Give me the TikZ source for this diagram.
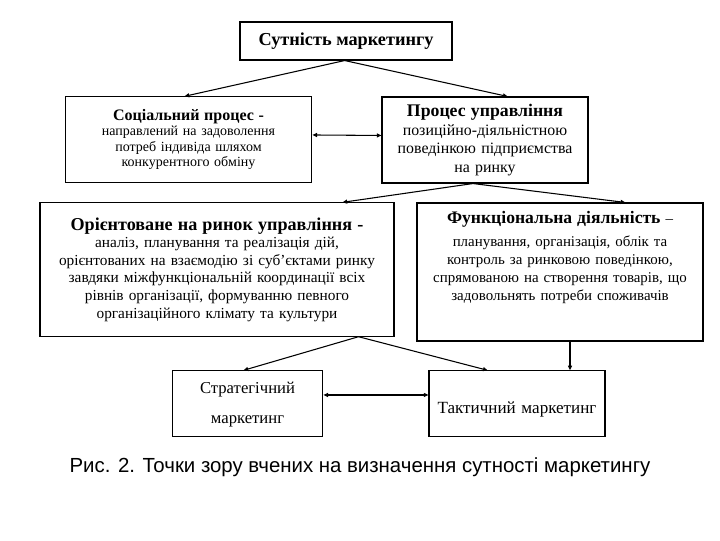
\documentclass[tikz,border=0pt]{standalone}
\usepackage{fontspec}
\setmainfont{Liberation Serif}
\newfontfamily\capfont{Liberation Sans}
\usetikzlibrary{arrows.meta}

\tikzset{
  box/.style={draw, line width=0.8pt, align=center, inner sep=2pt},
  arr/.style={line width=0.8pt, -{Triangle[length=3.5pt,width=3pt]}},
  dbl/.style={line width=0.8pt, {Triangle[length=3.5pt,width=3pt]}-{Triangle[length=3.5pt,width=3pt]}},
}

\begin{document}
\begin{tikzpicture}[x=0.75pt,y=0.75pt,yscale=-1,xscale=1]
\useasboundingbox (0,0) rectangle (720,540);

% Text Node
\node [box, minimum width=159pt, minimum height=28.5pt, font=\fontsize{13.7}{15}\selectfont\bfseries] (top) at (346,41) {Сутність маркетингу};
% Text Node
\node [box, text width=181pt, minimum height=64pt, font=\fontsize{10.5}{11.5}\selectfont] (social) at (188.5,139.5) {{\fontsize{12}{12}\selectfont\bfseries Соціальний процес -}\\направлений на задоволення\\потреб індивіда шляхом\\конкурентного обміну};
% Text Node
\node [box, text width=150.5pt, minimum height=64.5pt, font=\fontsize{11.9}{14}\selectfont] (process) at (485,140) {{\fontsize{13.3}{14}\selectfont\bfseries Процес управління}\\позиційно-діяльністною\\поведінкою підприємства\\на ринку};
% Text Node
\node [box, text width=261.5pt, minimum height=100pt, font=\fontsize{11.5}{13.2}\selectfont] (market) at (217,269.5) {{\fontsize{13.6}{14}\selectfont\bfseries Орієнтоване на ринок управління -}\\аналіз, планування та реалізація дій,\\орієнтованих на взаємодію зі суб’єктами ринку\\завдяки міжфункціональній координації всіх\\рівнів організації, формуванню певного\\організаційного клімату та культури};
% Text Node
\node [box, text width=210.5pt, minimum height=103.5pt, text height=12.5pt, text depth=85pt, font=\fontsize{11.2}{13.5}\selectfont] (func) at (560,272) {{\fontsize{13.2}{14}\selectfont\bfseries Функціональна діяльність} –\\[3.5pt]планування, організація, облік та\\контроль за ринковою поведінкою,\\спрямованою на створення товарів, що\\задовольнять потреби споживачів};
% Text Node
\node [box, text width=109pt, minimum height=49pt, text height=15pt, text depth=30pt, font=\fontsize{12.5}{22.5}\selectfont] (strat) at (247.5,403.5) {Стратегічний\\маркетинг};
% Text Node
\node [box, text width=128pt, minimum height=49pt, text height=30pt, text depth=15pt, font=\fontsize{12.8}{14}\selectfont] (tact) at (517,403.5) {Тактичний маркетинг};

% Text Node
\node [font=\capfont\fontsize{15.3}{17}\selectfont] (caption) at (360,467) {Рис. 2. Точки зору вчених на визначення сутності маркетингу};

% Connectors
\draw [arr] ([xshift=-1pt]top.south) -- ([xshift=-3pt]social.north);
\draw [arr] ([xshift=-1pt]top.south) -- ([xshift=17pt]process.north);
\draw [dbl] ([yshift=-3.4pt]social.east) -- ([yshift=-3.4pt]process.west);
\draw [arr] ([xshift=-9pt]process.south) -- ([xshift=-39pt]market.north east);
\draw [arr] ([xshift=-9pt]process.south) -- ([xshift=49pt]func.north);
\draw [arr] ([xshift=-27pt]market.south east) -- ([xshift=-3pt]strat.north);
\draw [arr] ([xshift=-27pt]market.south east) -- ([xshift=-22pt]tact.north);
\draw [arr] ([xshift=7.5pt]func.south) -- ([xshift=7.5pt]func.south |- tact.north);
\draw [dbl] ([yshift=-6.4pt]strat.east) -- ([yshift=-6.4pt]tact.west);

\end{tikzpicture}
\end{document}
